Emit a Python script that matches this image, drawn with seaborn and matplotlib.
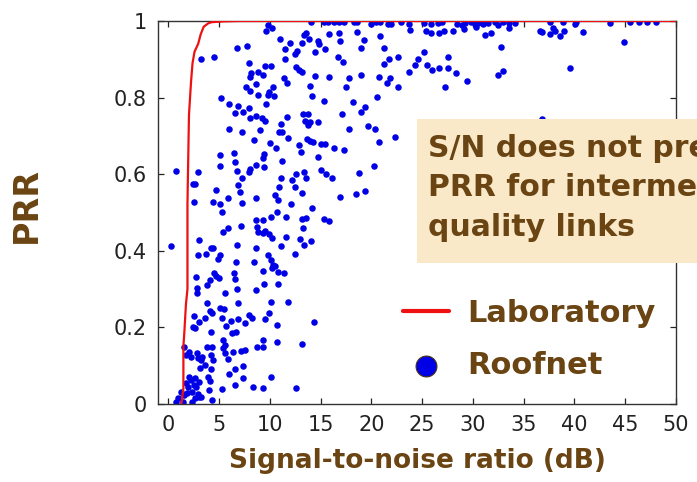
import numpy as np
import pandas as pd
import matplotlib
matplotlib.use("Agg")
import matplotlib.pyplot as plt
import matplotlib.patches as mpatches
import seaborn as sns

# Laboratory curve (PRR vs SNR)
lab_snr = [1.3, 1.5, 1.5, 1.6, 1.75, 1.9, 1.9, 1.95, 2.05, 2.25, 2.4, 2.6, 2.95, 3.2, 3.5, 3.95, 4.3, 5.5, 7.0, 50]
lab_prr = [0.0, 0.04, 0.15, 0.19, 0.26, 0.30, 0.52, 0.60, 0.755, 0.84, 0.89, 0.92, 0.94, 0.965, 0.985, 0.994, 0.997, 0.999, 1.0, 1.0]

# Roofnet links
roof_snr = [
    6.8, 7.8, 3.2, 4.5, 8.0, 8.2, 8.1, 8.8, 8.6, 7.7, 8.1, 8.8, 5.2, 6.0, 6.9, 6.6, 7.4, 8.0, 8.1, 8.6,
    6.0, 7.3, 9.0, 8.5, 5.1, 6.5, 5.1, 6.6, 6.8, 8.1, 8.0, 8.6, 0.8, 2.9, 7.3, 6.9, 2.4, 2.6, 4.7, 7.1,
    2.5, 4.4, 5.1, 5.9, 7.3, 8.6, 5.3,
    9.6, 10.2, 9.8, 14.1, 15.3, 15.7, 16.3, 16.8, 17.3, 18.3, 18.6,
    11.0, 12.0, 11.5, 13.4, 13.6, 13.9, 14.8, 14.9, 13.2, 12.7, 12.5, 14.5, 15.4, 15.8, 16.8, 16.9, 11.5,
    16.7, 17.2, 9.5, 10.1, 9.3, 12.6, 12.9, 13.2, 11.4, 11.7, 14.5, 15.8, 17.8, 17.5, 14.0, 14.2, 10.3,
    9.9, 9.8, 10.4, 15.3, 18.2, 9.6, 17.1, 9.2, 9.5, 11.7, 13.3, 13.8, 13.5, 13.8, 14.0, 14.8, 11.1,
    10.9, 11.2, 17.8, 11.8, 13.7, 14.0, 14.3, 10.0, 10.6, 12.9, 13.1, 15.0, 15.4, 16.3, 17.3, 9.4, 9.3,
    14.8, 11.2, 9.4, 15.0, 15.5, 16.1, 12.6, 13.4, 13.6, 12.2, 12.5, 11.1, 10.9, 13.2, 18.5, 16.9, 10.5,
    10.8, 12.1, 14.2, 10.7,
    5.9, 5.4, 7.2, 8.6, 8.7, 8.8, 0.3, 3.0, 2.9, 3.7, 4.2, 4.4, 5.1, 4.9, 6.8, 8.6, 6.7, 8.5, 2.7, 2.8,
    2.8, 3.8, 4.1, 4.5, 4.7, 5.0, 6.5, 6.6, 6.8, 5.6, 8.6, 3.8, 6.9, 4.1, 4.3, 3.6, 5.1, 5.5, 5.3, 2.5,
    2.6, 2.4, 6.2, 6.9, 7.6, 8.0, 8.3, 3.0, 5.7, 4.2, 6.3, 6.7, 5.4, 5.6, 1.6, 2.1, 1.8, 2.2, 2.8, 2.9,
    3.3, 3.2, 3.8, 4.3, 4.2, 4.4, 5.4, 5.6, 6.4, 7.2, 7.6, 8.7, 5.9, 3.6, 3.1, 4.2, 6.6, 7.4, 6.0, 2.1,
    2.2, 2.6, 3.0, 3.9, 4.1, 1.8, 2.0, 2.5, 2.7, 7.4, 6.6, 8.4, 4.0, 5.3, 1.3, 1.6, 1.9, 2.3, 2.9, 3.2,
    1.0, 1.5, 2.3, 2.6, 0.8, 4.3, 3.0,
    10.1, 9.3, 11.6, 13.2, 13.6, 15.3, 15.8, 13.3, 9.3, 9.5, 9.9, 10.2, 11.6, 13.0, 13.4, 14.1, 11.1,
    12.5, 9.8, 10.1, 10.3, 10.5, 10.2, 10.8, 11.4, 9.3, 9.4, 10.8, 10.1, 11.8, 9.9, 9.5, 10.7, 14.4,
    9.3, 9.3, 10.7, 13.2, 10.1, 9.3, 12.6,
    20.0, 20.5, 20.9, 21.6, 21.9, 22.9, 23.7, 25.2, 25.9, 26.6, 27.0, 28.4,
    23.8, 25.4, 25.9, 26.7, 27.2, 28.0, 18.6, 19.3, 20.9, 19.0, 21.3, 21.7, 21.3, 22.6, 24.6, 24.3,
    25.2, 25.5, 26.0, 26.7, 27.6, 27.6, 28.3, 23.7, 27.3, 19.0, 20.8, 21.8, 21.5, 22.6, 20.6, 19.4,
    19.0, 19.7, 20.4, 20.8, 22.3, 20.3, 18.8, 19.4,
    28.9, 29.2, 29.8, 30.2, 30.5, 31.0, 31.5, 32.2, 32.5, 33.0, 33.6, 34.1,
    29.1, 30.3, 31.2, 31.8, 33.6, 32.8, 29.4, 32.5, 33.0, 36.6, 36.8, 37.6, 37.9, 37.6, 38.1, 38.6,
    39.0, 38.9, 40.1, 40.2, 40.8, 39.6, 43.5, 44.9, 45.5, 46.4, 47.1, 48.0, 36.8,
]
roof_prr = [
    0.930, 0.935, 0.900, 0.907, 0.890, 0.863, 0.855, 0.868, 0.835, 0.828, 0.817, 0.807, 0.798, 0.784,
    0.779, 0.759, 0.763, 0.772, 0.748, 0.753, 0.718, 0.709, 0.715, 0.689, 0.650, 0.656, 0.621, 0.631,
    0.608, 0.614, 0.607, 0.624, 0.608, 0.607, 0.590, 0.572, 0.574, 0.575, 0.559, 0.554, 0.528, 0.528,
    0.522, 0.537, 0.526, 0.539, 0.502,
    0.974, 0.983, 0.990, 0.997, 0.997, 0.997, 0.997, 0.997, 0.997, 0.997, 0.997,
    0.953, 0.942, 0.927, 0.963, 0.968, 0.953, 0.948, 0.939, 0.942, 0.922, 0.913, 0.920, 0.927, 0.965,
    0.968, 0.948, 0.900, 0.905, 0.894, 0.883, 0.883, 0.859, 0.879, 0.872, 0.866, 0.852, 0.837, 0.857,
    0.854, 0.850, 0.828, 0.830, 0.804, 0.828, 0.815, 0.807, 0.804, 0.790, 0.788, 0.783, 0.758, 0.746,
    0.739, 0.750, 0.756, 0.756, 0.739, 0.728, 0.735, 0.735, 0.730, 0.711, 0.709, 0.717, 0.695, 0.692,
    0.687, 0.685, 0.682, 0.669, 0.676, 0.659, 0.678, 0.680, 0.669, 0.663, 0.654, 0.643, 0.645, 0.634,
    0.620, 0.611, 0.600, 0.589, 0.600, 0.605, 0.589, 0.585, 0.567, 0.589, 0.567, 0.550, 0.549, 0.541,
    0.546, 0.533, 0.521, 0.513, 0.502,
    0.460, 0.448, 0.466, 0.480, 0.463, 0.450, 0.413, 0.427, 0.388, 0.392, 0.407, 0.407, 0.389, 0.379,
    0.414, 0.407, 0.370, 0.370, 0.331, 0.304, 0.291, 0.312, 0.324, 0.341, 0.334, 0.330, 0.341, 0.326,
    0.300, 0.291, 0.298, 0.263, 0.263, 0.243, 0.238, 0.225, 0.250, 0.248, 0.225, 0.230, 0.198, 0.202,
    0.217, 0.222, 0.211, 0.232, 0.224, 0.213, 0.204, 0.187, 0.185, 0.189, 0.167, 0.154, 0.150, 0.137,
    0.128, 0.124, 0.132, 0.119, 0.124, 0.115, 0.148, 0.150, 0.128, 0.114, 0.145, 0.132, 0.135, 0.138,
    0.141, 0.150, 0.117, 0.102, 0.095, 0.091, 0.091, 0.100, 0.078, 0.071, 0.063, 0.067, 0.058, 0.071,
    0.061, 0.054, 0.045, 0.050, 0.044, 0.067, 0.050, 0.045, 0.037, 0.039, 0.031, 0.023, 0.030, 0.032,
    0.025, 0.019, 0.015, 0.006, 0.006, 0.015, 0.006, 0.010, 0.019,
    0.489, 0.480, 0.487, 0.483, 0.486, 0.483, 0.479, 0.460, 0.446, 0.452, 0.444, 0.433, 0.435, 0.430,
    0.415, 0.426, 0.413, 0.391, 0.389, 0.376, 0.363, 0.360, 0.354, 0.345, 0.343, 0.347, 0.313, 0.313,
    0.267, 0.267, 0.237, 0.222, 0.206, 0.213, 0.167, 0.150, 0.163, 0.156, 0.070, 0.043, 0.041,
    0.993, 0.997, 0.997, 0.993, 0.993, 0.997, 0.993, 0.995, 0.993, 0.995, 0.997, 0.993,
    0.977, 0.974, 0.968, 0.968, 0.973, 0.974, 0.972, 0.950, 0.961, 0.929, 0.929, 0.902, 0.889, 0.907,
    0.900, 0.885, 0.918, 0.885, 0.872, 0.876, 0.907, 0.876, 0.865, 0.866, 0.828, 0.859, 0.855, 0.850,
    0.837, 0.828, 0.802, 0.776, 0.762, 0.727, 0.717, 0.685, 0.696, 0.621, 0.603, 0.555,
    0.990, 0.995, 0.997, 0.993, 0.995, 0.993, 0.995, 0.997, 0.990, 0.997, 0.995, 0.995,
    0.979, 0.985, 0.963, 0.968, 0.981, 0.931, 0.843, 0.859, 0.870, 0.974, 0.970, 0.998, 0.981, 0.966,
    0.975, 0.962, 0.975, 0.998, 0.991, 0.998, 0.972, 0.876, 0.994, 0.944, 0.998, 0.998, 0.998, 0.998,
    0.744,
]

x_ticks = [0, 5, 10, 15, 20, 25, 30, 35, 40, 45, 50]
y_ticks = [0, 0.2, 0.4, 0.6, 0.8, 1]
y_tick_labels = ["0", "0.2", "0.4", "0.6", "0.8", "1"]

brown = "#6a4412"

roof = pd.DataFrame({"snr": roof_snr, "prr": roof_prr})
lab = pd.DataFrame({"snr": lab_snr, "prr": lab_prr})

sns.set_style("ticks")
plt.rcParams["font.family"] = ["DejaVu Sans"]

fig = plt.figure(figsize=(6.97, 4.82), dpi=100)
ax = fig.add_axes([158 / 697, 1 - 404 / 482, 518 / 697, 383 / 482])

sns.scatterplot(data=roof, x="snr", y="prr", ax=ax, color="#0000e6", s=22,
                linewidth=0, label="Roofnet", zorder=2)
sns.lineplot(data=lab, x="snr", y="prr", ax=ax, color="#ee1111", lw=1.6,
             sort=False, estimator=None, label="Laboratory", zorder=3)

ax.set_xlim(-1, 50)
ax.set_ylim(0, 1)
ax.set_xticks(x_ticks)
ax.set_yticks(y_ticks, y_tick_labels)
ax.tick_params(direction="in", top=True, right=True, length=4, width=0.9,
               labelsize=15, colors="#222222", pad=8)
for sp in ax.spines.values():
    sp.set_color("#333333")
    sp.set_linewidth(1.0)

ax.set_xlabel("Signal-to-noise ratio (dB)", fontsize=19, weight="bold", color=brown)
ax.set_ylabel("PRR", fontsize=24, weight="bold", color=brown)
ax.xaxis.set_label_coords(0.5, -0.115)
ax.yaxis.set_label_coords(-0.222, 0.52)

# legend: line first, then dots
h, l = ax.get_legend_handles_labels()
order = [l.index("Laboratory"), l.index("Roofnet")]
leg = ax.legend([h[i] for i in order], [l[i] for i in order], loc="center left",
                bbox_to_anchor=(403 / 697, 1 - 339.5 / 482), bbox_transform=fig.transFigure,
                frameon=False, borderpad=0, borderaxespad=0, handlelength=1.5,
                handletextpad=0.6, labelspacing=0.75, markerscale=3.2,
                prop={"weight": "bold", "size": 22}, labelcolor=brown)
leg.legend_handles[0].set_linewidth(3)
leg.legend_handles[1].set_edgecolor("#4a3010")
leg.legend_handles[1].set_linewidth(0.8)

# note box, running off the right edge
box = mpatches.Rectangle((417 / 697, 1 - 263 / 482), 0.45, 144 / 482,
                         transform=fig.transFigure, facecolor="#f9e9c8",
                         edgecolor="none", zorder=3)
fig.add_artist(box)
fig.text(428 / 697, 1 - 188 / 482, "S/N does not predict\nPRR for intermediate\nquality links",
         ha="left", va="center", fontsize=21.5, weight="bold", color=brown,
         linespacing=1.45, zorder=4)

fig.savefig("out.png", dpi=100)
